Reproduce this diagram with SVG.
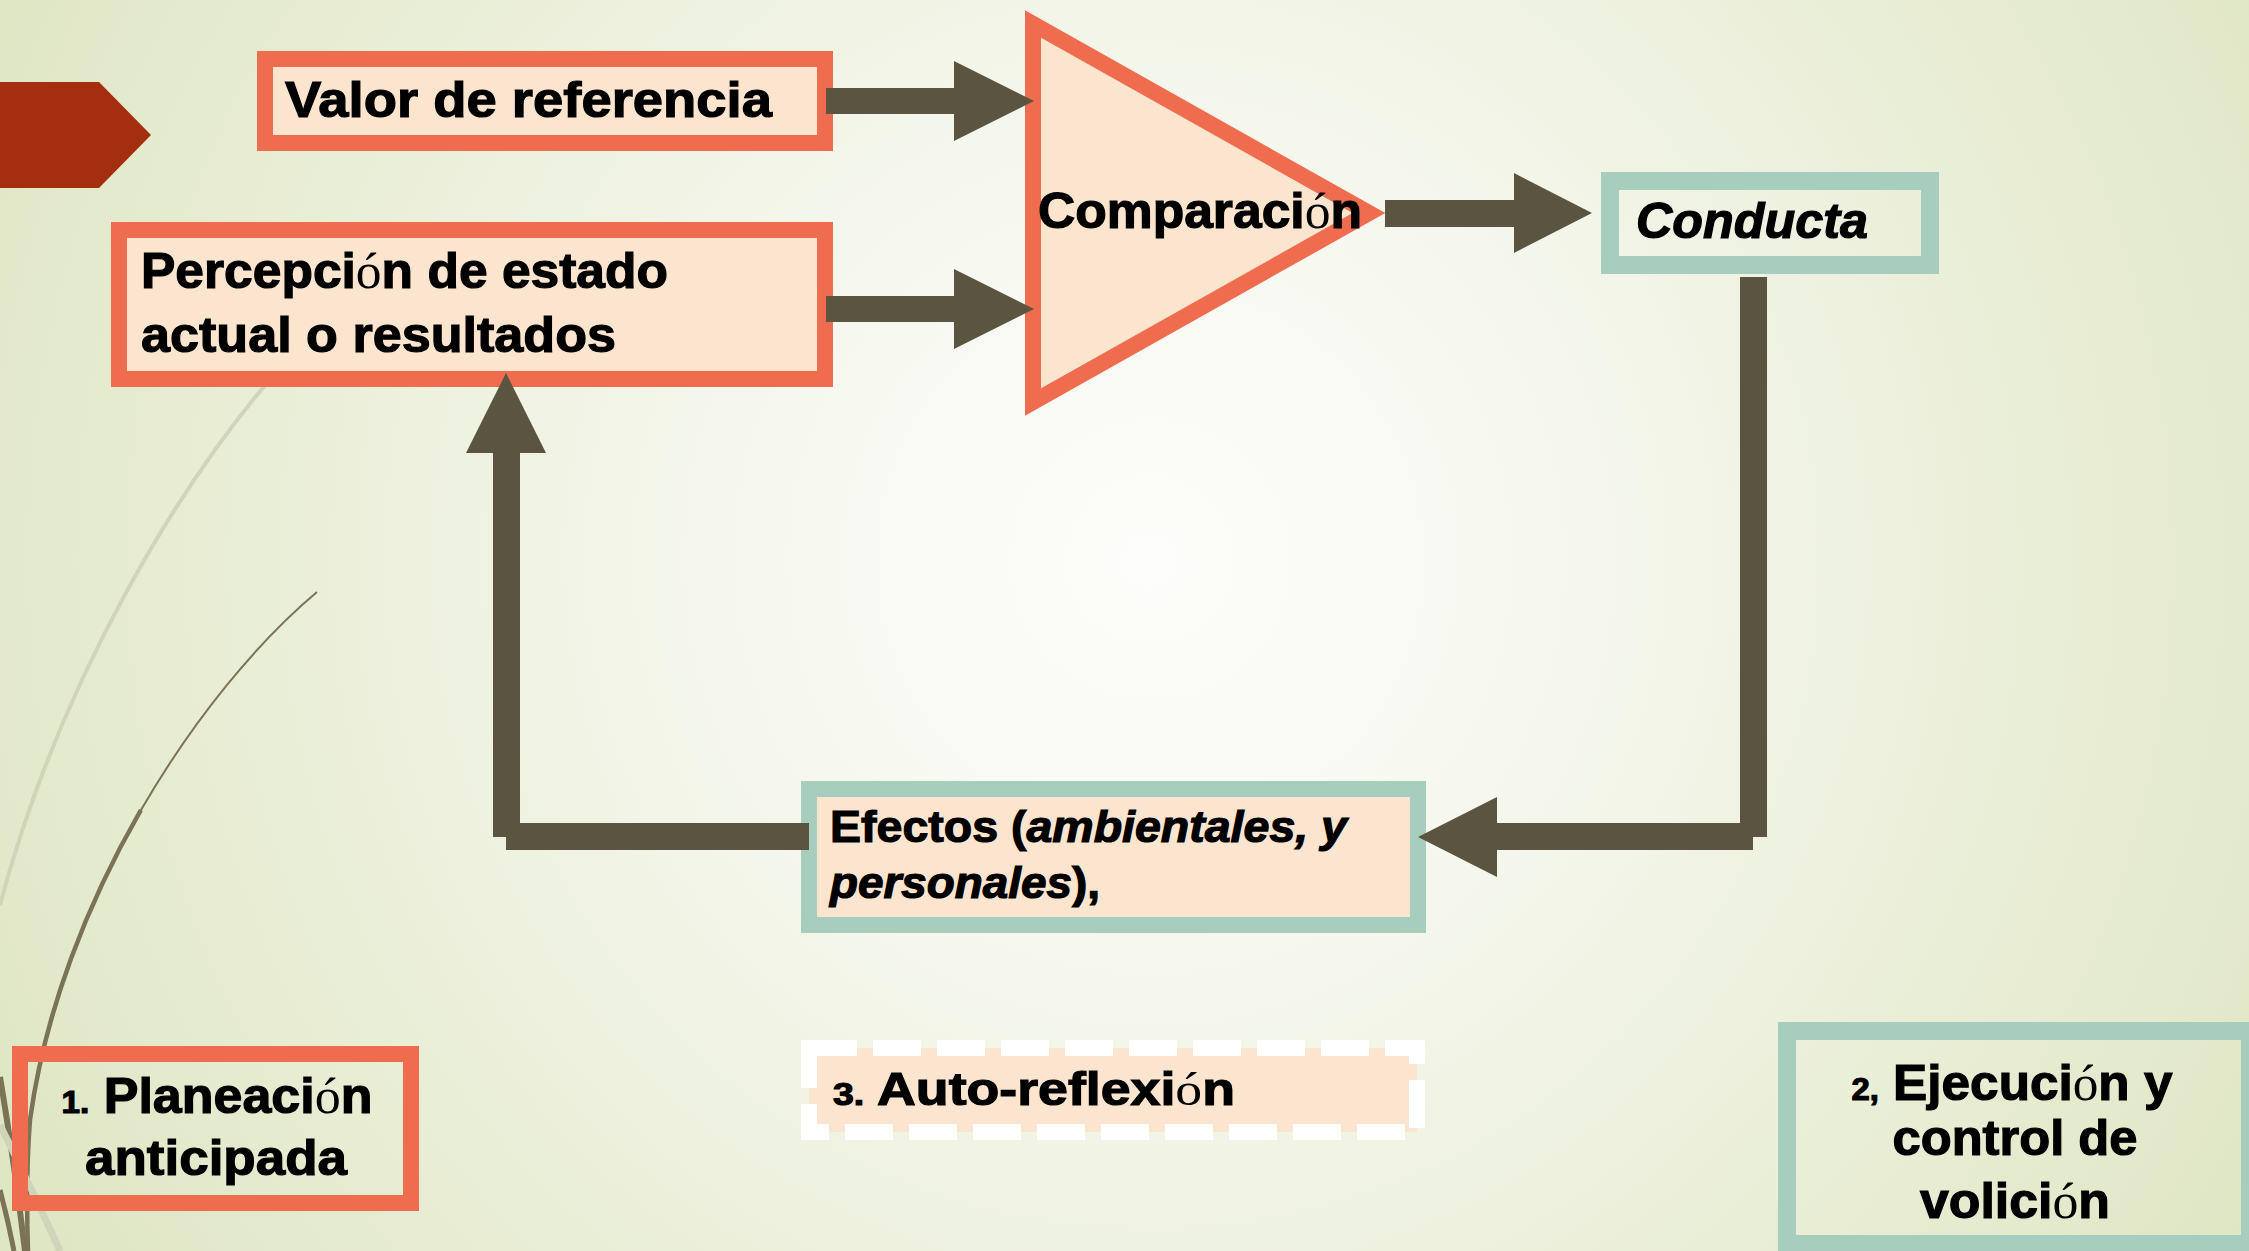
<svg xmlns="http://www.w3.org/2000/svg" width="2249" height="1251" viewBox="0 0 2249 1251">
<defs>
<radialGradient id="bg" gradientUnits="userSpaceOnUse" cx="1150" cy="560" r="1300">
<stop offset="0" stop-color="#fdfdfb"/>
<stop offset="0.3" stop-color="#f6f8ef"/>
<stop offset="1" stop-color="#dfe6c3"/>
</radialGradient>
<style>
.t{font-family:"Liberation Sans",Arial,sans-serif;font-weight:bold;fill:#000;stroke:#000;stroke-width:1.2}
.o{font-family:"Liberation Serif","Times New Roman",serif;font-weight:normal;font-style:normal;stroke:none}
.it{font-style:italic}
.sm{font-size:32px}
.org{fill:#fbe5cf;stroke:#ef6c4e;stroke-width:16}
.tea{stroke:#a7cdbe;stroke-width:18}
.con{fill:#5b5441}
</style>
</defs>
<rect x="0" y="0" width="2249" height="1251" fill="url(#bg)"/>

<g id="decor">
<path d="M285,362 C180,480 60,680 0,905" fill="none" stroke="#cfd4ba" stroke-width="4"/>
<path d="M317,592 C200,690 60,900 30,1120 C26,1170 27,1220 28,1251" fill="none" stroke="#7b7356" stroke-width="2"/>
<path d="M140.9,810 C87.5,902.5 45,1010 30,1120 C26,1170 27,1220 28,1251" fill="none" stroke="#7b7356" stroke-width="4.5"/>
<path d="M0,1077 Q14,1160 25,1251" fill="none" stroke="#7b7356" stroke-width="6"/>
<path d="M0,1125 Q30,1185 60,1251" fill="none" stroke="#cfd4ba" stroke-width="7"/>
<path d="M0,1190 Q8,1220 14,1251" fill="none" stroke="#7b7356" stroke-width="5"/>
<path d="M0,82 L99,82 L151,135 L99,188 L0,188 Z" fill="#a52e10"/>
</g>

<g id="valor">
<rect class="org" x="265" y="59" width="560" height="84"/>
<text class="t" x="285" y="117" font-size="50" textLength="487" lengthAdjust="spacingAndGlyphs">Valor de referencia</text>
</g>

<g id="percepcion">
<rect class="org" x="119" y="230" width="706" height="149"/>
<text class="t" x="141" y="288" font-size="50" textLength="527" lengthAdjust="spacingAndGlyphs">Percepci<tspan class="o">ó</tspan>n de estado</text>
<text class="t" x="141" y="352" font-size="50" textLength="475" lengthAdjust="spacingAndGlyphs">actual o resultados</text>
</g>

<g id="comparacion">
<polygon class="org" points="1033,24 1033,402 1369,213"/>
<text class="t" x="1038" y="228" font-size="50" textLength="324" lengthAdjust="spacingAndGlyphs">Comparaci<tspan class="o">ó</tspan>n</text>
</g>

<g id="conducta">
<rect class="tea" x="1610" y="181" width="320" height="84" fill="none"/>
<text class="t it" x="1636" y="238" font-size="50" textLength="232" lengthAdjust="spacingAndGlyphs">Conducta</text>
</g>

<g id="efectos">
<rect x="809" y="789" width="609" height="136" fill="#fbe5cf" stroke="#a7cdbe" stroke-width="16"/>
<text class="t" x="830" y="842" font-size="45" textLength="517" lengthAdjust="spacingAndGlyphs">Efectos (<tspan class="it">ambientales, y</tspan></text>
<text class="t" x="830" y="898" font-size="45" textLength="270" lengthAdjust="spacingAndGlyphs"><tspan class="it">personales</tspan>),</text>
</g>

<g id="autoreflexion">
<rect x="809" y="1048" width="608" height="84" fill="#fbe5cf" stroke="#ffffff" stroke-width="16" stroke-dasharray="48 16"/>
<text class="t" x="833" y="1105" font-size="46" textLength="402" lengthAdjust="spacingAndGlyphs"><tspan class="sm">3.</tspan> Auto-reflexi<tspan class="o">ó</tspan>n</text>
</g>

<g id="planeacion">
<rect x="20" y="1054" width="391" height="149" fill="none" stroke="#ef6c4e" stroke-width="16"/>
<text class="t" x="217" y="1113" font-size="50" text-anchor="middle" textLength="311" lengthAdjust="spacingAndGlyphs"><tspan class="sm">1.</tspan> Planeaci<tspan class="o">ó</tspan>n</text>
<text class="t" x="216" y="1175" font-size="50" text-anchor="middle" textLength="262" lengthAdjust="spacingAndGlyphs">anticipada</text>
</g>

<g id="ejecucion">
<rect class="tea" x="1787" y="1031" width="463" height="213" fill="none"/>
<text class="t" x="2012" y="1100" font-size="50" text-anchor="middle" textLength="321" lengthAdjust="spacingAndGlyphs"><tspan class="sm">2,</tspan> Ejecuci<tspan class="o">ó</tspan>n y</text>
<text class="t" x="2015" y="1155" font-size="50" text-anchor="middle" textLength="245" lengthAdjust="spacingAndGlyphs">control de</text>
<text class="t" x="2015" y="1218" font-size="50" text-anchor="middle" textLength="190" lengthAdjust="spacingAndGlyphs">volici<tspan class="o">ó</tspan>n</text>
</g>

<g id="connectors">
<path class="con" d="M826,88 L954,88 L954,61 L1034,101 L954,141 L954,114 L826,114 Z"/>
<path class="con" d="M826,296 L954,296 L954,269 L1034,309 L954,349 L954,322 L826,322 Z"/>
<path class="con" d="M1385,200 L1514,200 L1514,173 L1592,213 L1514,253 L1514,227 L1385,227 Z"/>
<rect class="con" x="1740" y="277" width="27" height="560"/>
<path class="con" d="M1753,823 L1497,823 L1497,797 L1418,837 L1497,877 L1497,850 L1753,850 Z"/>
<rect class="con" x="506" y="823" width="303" height="27"/>
<rect class="con" x="493" y="453" width="27" height="384"/>
<path class="con" d="M466,453 L506,373 L546,453 Z"/>
</g>
</svg>
